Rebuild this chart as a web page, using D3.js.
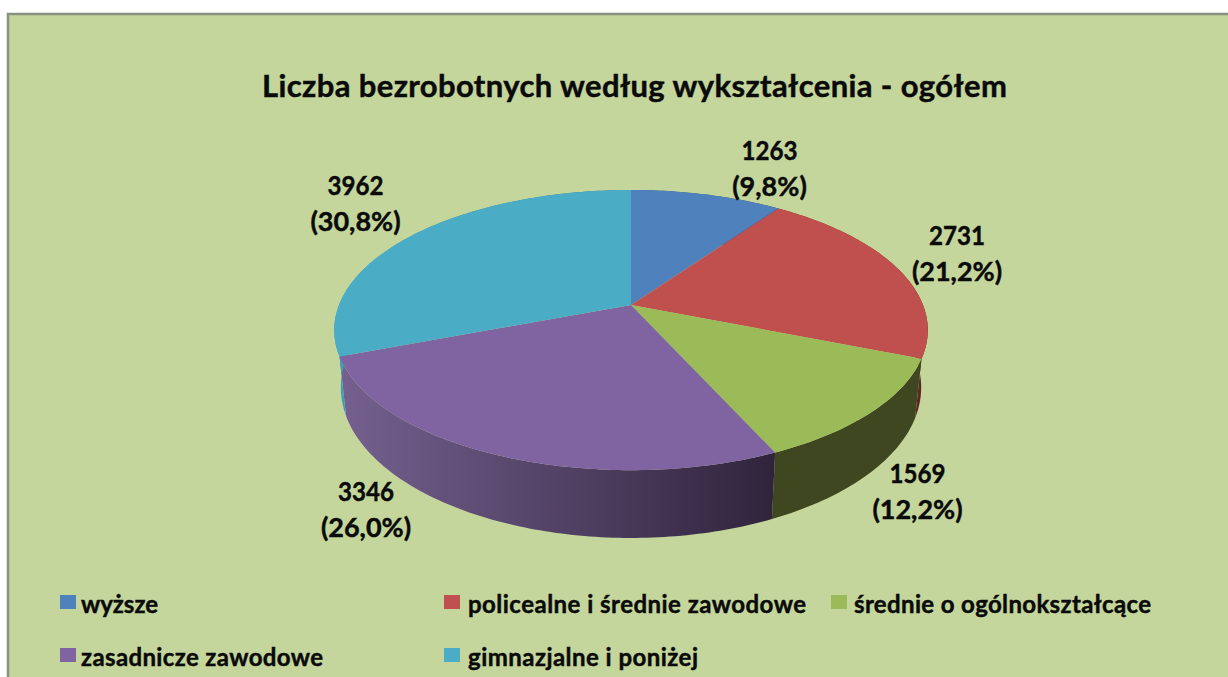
<!DOCTYPE html>
<html lang="pl">
<head>
<meta charset="UTF-8">
<title>Liczba bezrobotnych według wykształcenia</title>
<script src="https://cdnjs.cloudflare.com/ajax/libs/d3/7.8.5/d3.min.js"></script>
<style>
  html, body { margin: 0; padding: 0; background: #fff; overflow: hidden; }
  text { font-family: Lato, "Open Sans", sans-serif; font-weight: 700; fill: #0a0a0a; stroke: #0a0a0a; stroke-width: 0.45; }
</style>
</head>
<body>
<svg id="chart" width="1228" height="677"></svg>
<script>
const categories = ["wyższe", "policealne i średnie zawodowe", "średnie o ogólnokształcące", "zasadnicze zawodowe", "gimnazjalne i poniżej"];
const values = [1263, 2731, 1569, 3346, 3962];
const topColors = ["#4f81bd", "#c0504d", "#9bbb59", "#8064a2", "#4bacc6"];
const wallLeft = ["#3a5f8c", "#7a2f2d", "#3e4720", "#75608f", "#3fa0ba"];
const wallRight = ["#2a4566", "#5e2624", "#3e4720", "#30243c", "#2f7488"];

// where the two value lines of each label sit (centre x, first baseline)
const labelPos = [[769.5, 160], [957, 245], [917.5, 483], [366, 501], [355.5, 195]];
// legend: swatch left, swatch top, text left, text width
const legendPos = [[60, 595, 81, 77], [444, 595, 468, 338], [831, 595, 854, 297], [60, 648, 81, 242], [444, 648, 468, 230]];

const svg = d3.select("#chart");
const defs = svg.append("defs");

// panel
svg.append("rect").attr("x", 8).attr("y", 14).attr("width", 1240).attr("height", 700)
  .attr("fill", "#c4d69b").attr("stroke", "#8a9180").attr("stroke-width", 2.5);

// tilted disc: perspective of a unit circle, k is the foreshortening
const k = 0.179;
const topX = d3.scaleLinear().domain([0, 1]).range([631, 631 + 292]);
const topY = d3.scaleLinear().domain([0, 1]).range([305, 305 + 135.6]);
const botX = d3.scaleLinear().domain([0, 1]).range([631, 631 + 285.5]);
const botY = d3.scaleLinear().domain([0, 1]).range([360.6, 360.6 + 145.6]);

function rim(a, sx, sy) {
  const u = Math.sin(a), v = -Math.cos(a), w = 1 - k * v;
  return [sx(u / w), sy(v / w)];
}
function arcAngles(d) {
  const n = Math.max(2, Math.ceil((d.endAngle - d.startAngle) * 60));
  return d3.range(n + 1).map(i => d.startAngle + (d.endAngle - d.startAngle) * i / n);
}

const arcs = d3.pie().sort(null)(values);
const line = d3.line().curve(d3.curveLinearClosed);

// side walls first, the top faces cover what is behind
arcs.forEach((d, i) => {
  const angles = arcAngles(d);
  const upper = angles.map(a => rim(a, topX, topY));
  const lower = angles.map(a => rim(a, botX, botY)).reverse();
  const xs = upper.concat(lower).map(p => p[0]);
  const grad = defs.append("linearGradient").attr("id", "wall" + i)
    .attr("gradientUnits", "userSpaceOnUse")
    .attr("x1", d3.min(xs)).attr("x2", d3.max(xs)).attr("y1", 0).attr("y2", 0);
  grad.append("stop").attr("offset", 0).attr("stop-color", wallLeft[i]);
  grad.append("stop").attr("offset", 1).attr("stop-color", wallRight[i]);
  svg.append("path").attr("d", line(upper.concat(lower))).attr("fill", `url(#wall${i})`);
});

// top faces
arcs.forEach((d, i) => {
  const pts = [[topX(0), topY(0)]].concat(arcAngles(d).map(a => rim(a, topX, topY)));
  svg.append("path").attr("d", line(pts)).attr("fill", topColors[i]);
});

// title
svg.append("text").attr("x", 262).attr("y", 97)
  .attr("font-size", 31).attr("textLength", 745).attr("lengthAdjust", "spacing")
  .text("Liczba bezrobotnych według wykształcenia - ogółem");

// value labels
const total = d3.sum(values);
values.forEach((v, i) => {
  const pct = d3.format(".1f")(v / total * 100).replace(".", ",");
  const g = svg.append("g").attr("text-anchor", "middle").attr("font-size", 27);
  g.append("text").attr("x", labelPos[i][0]).attr("y", labelPos[i][1])
    .attr("textLength", 56).attr("lengthAdjust", "spacingAndGlyphs").text(v);
  g.append("text").attr("x", labelPos[i][0]).attr("y", labelPos[i][1] + 36).text(`(${pct}%)`);
});

// legend
categories.forEach((c, i) => {
  const [sx, sy, tx, tw] = legendPos[i];
  svg.append("rect").attr("x", sx).attr("y", sy).attr("width", 16).attr("height", 14).attr("fill", topColors[i]);
  svg.append("text").attr("x", tx).attr("y", sy + 18).attr("font-size", 24)
    .attr("textLength", tw).attr("lengthAdjust", "spacing").text(c);
});
</script>
</body>
</html>
